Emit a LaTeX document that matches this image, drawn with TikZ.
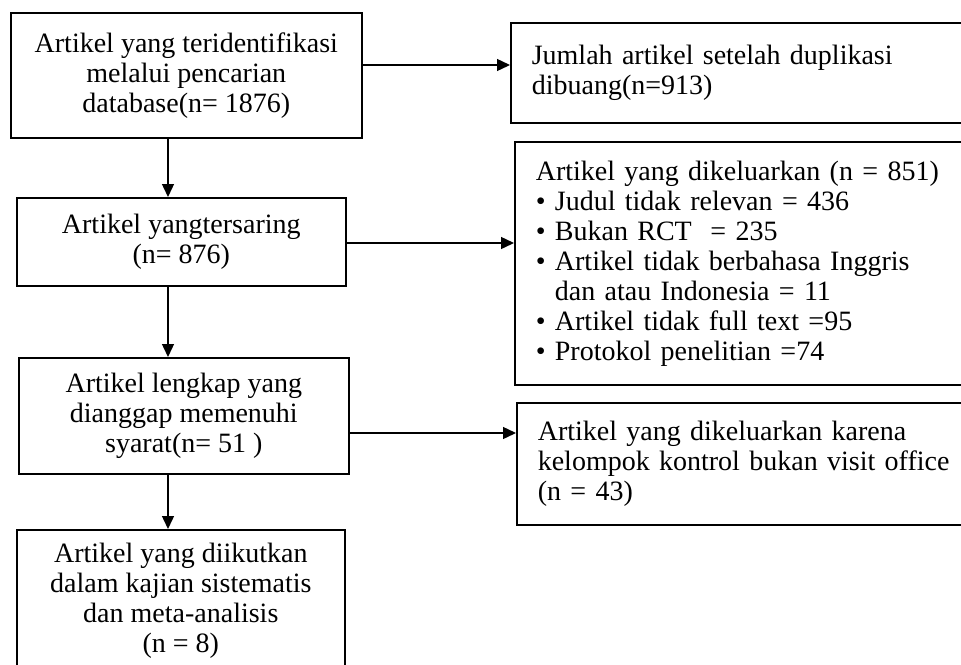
\documentclass[tikz,border=0pt]{standalone}
\usepackage{fontspec}
\setmainfont{Liberation Serif}
\usepackage{tikz}
\usetikzlibrary{calc,%
               arrows.meta,%
               positioning}
\tikzset{
  flowbox/.style={draw=black, line width=1.6pt, fill=white, anchor=north west,
                  inner xsep=0pt, inner ysep=0pt, align=center,
                  font=\fontsize{28}{30}\selectfont},
  sidebox/.style={flowbox, inner xsep=21pt, align=left, text width=428pt,
                  minimum width=470pt},
  flow/.style={line width=1.4pt, -{Triangle[length=13pt,width=12pt]}},
}

\begin{document}
\begin{tikzpicture}[x=1pt,y=-1pt]
  \useasboundingbox (0,0) rectangle (961,664);
  \clip (0,0) rectangle (961,664);

  % main column
  \node[flowbox, minimum width=351pt, minimum height=125pt] (id) at (10,12)
    {Artikel yang teridentifikasi\\ melalui pencarian\\ database(n= 1876)};
  \node[flowbox, minimum width=329pt, minimum height=88pt] (screen) at (16,197)
    {Artikel yangtersaring\\ (n= 876)};
  \node[flowbox, minimum width=330pt, minimum height=116pt] (elig) at (18,357)
    {Artikel lengkap yang\\ dianggap memenuhi\\ syarat(n= 51 )};
  \node[flowbox, minimum width=328pt, minimum height=142pt] (incl) at (16,529)
    {Artikel yang diikutkan\\ dalam kajian sistematis\\ dan meta-analisis\\ (n = 8)};

  % excluded boxes on the right
  \node[sidebox, minimum height=100pt] (dup) at (510,22)
    {Jumlah artikel setelah duplikasi\\ dibuang(n=913)};
  \node[sidebox, minimum height=243pt] (excl) at (514,141)
    {Artikel yang dikeluarkan (n = 851)\\
     \textbullet~Judul tidak relevan = 436\\
     \textbullet~Bukan RCT~ = 235\\
     \textbullet~Artikel tidak berbahasa Inggris\\
     \hphantom{\textbullet~}dan atau Indonesia = 11\\
     \textbullet~Artikel tidak full text =95\\
     \textbullet~Protokol penelitian =74};
  \node[sidebox, minimum height=122pt] (ctrl) at (516,402)
    {Artikel yang dikeluarkan karena\\ kelompok kontrol bukan visit office\\ (n = 43)};

  % arrow positions
  \coordinate (spine) at (168,0);
  \coordinate (r1) at (0,65);
  \coordinate (r2) at (0,243);
  \coordinate (r3) at (0,433);

  \draw[flow] (id.south -| spine) -- (screen.north -| spine);
  \draw[flow] (screen.south -| spine) -- (elig.north -| spine);
  \draw[flow] (elig.south -| spine) -- (incl.north -| spine);

  \draw[flow] (id.east |- r1) -- (dup.west |- r1);
  \draw[flow] (screen.east |- r2) -- (excl.west |- r2);
  \draw[flow] (elig.east |- r3) -- (ctrl.west |- r3);
\end{tikzpicture}
\end{document}
